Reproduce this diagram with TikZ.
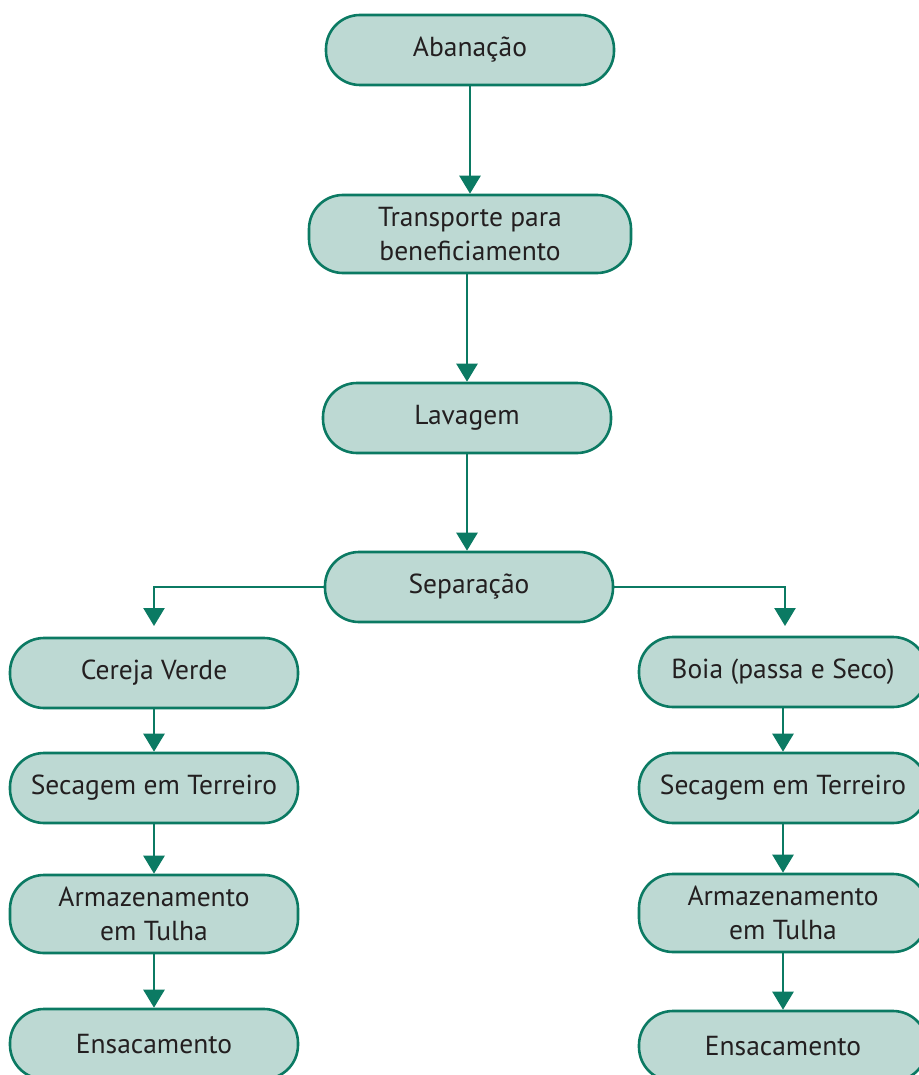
\documentclass[tikz,border=0pt]{standalone}
\usepackage{fontspec}
\setmainfont{PT Sans}
\usetikzlibrary{arrows.meta}
\definecolor{boxfill}{HTML}{BDD9D3}
\definecolor{boxline}{HTML}{0B7A63}
\definecolor{txt}{HTML}{231F20}
\begin{document}
\begin{tikzpicture}[x=1pt,y=-1pt,
  box/.style={draw=boxline, fill=boxfill, line width=2.6pt, rounded corners=34pt,
    minimum width=288pt, minimum height=70pt, inner sep=0pt, align=center,
    text=txt, font=\fontsize{27.5}{34}\selectfont},
  conn/.style={draw=boxline, line width=2.6pt, -{Triangle[length=18pt,width=21pt]}}]
\useasboundingbox (0,0) rectangle (918,1075);
\node[box] (aba) at (470,50) {Abanação};
\node[box, minimum width=322pt, minimum height=78pt] (tra) at (470,234) {Transporte para\\beneficiamento};
\node[box] (lav) at (467,418) {Lavagem};
\node[box] (sep) at (469,587) {Separação};
\node[box] (cv) at (154,673) {Cereja Verde};
\node[box] (sl) at (154,788) {Secagem em Terreiro};
\node[box, minimum height=78pt] (al) at (154,914) {Armazenamento\\em Tulha};
\node[box] (el) at (154,1044) {Ensacamento};
\node[box] (bo) at (783,672) {Boia (passa e Seco)};
\node[box] (sr) at (783,788) {Secagem em Terreiro};
\node[box, minimum height=78pt] (ar) at (783,913) {Armazenamento\\em Tulha};
\node[box] (er) at (783,1046) {Ensacamento};
\coordinate (lt) at (154,626);
\coordinate (rt) at (785,626);
\draw[conn] (aba.south) -- (aba.south |- tra.north);
\draw[conn] (tra.south -| lav.north) -- (lav.north);
\draw[conn] (lav.south) -- (lav.south |- sep.north);
\draw[conn] (sep.west) -| (lt);
\draw[conn] (sep.east) -| (rt);
\draw[conn] (cv) -- (sl);
\draw[conn] (sl) -- (al);
\draw[conn] (al) -- (el);
\draw[conn] (bo) -- (sr);
\draw[conn] (sr) -- (ar);
\draw[conn] (ar) -- (er);
\end{tikzpicture}
\end{document}
